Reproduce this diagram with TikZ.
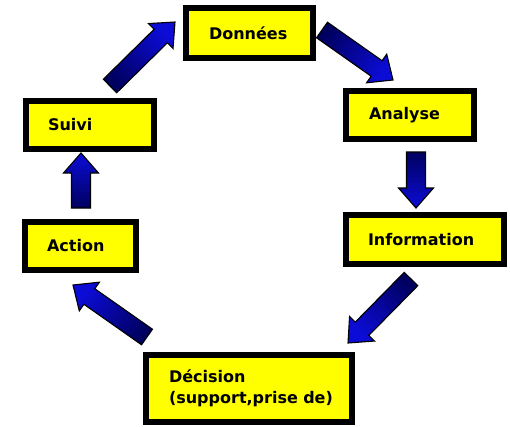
\documentclass[tikz,border=0pt]{standalone}
\usepackage{fontspec}
\setmainfont{DejaVu Sans}
\usetikzlibrary{calc}
\definecolor{boxyellow}{RGB}{255,255,0}
\definecolor{arrnavy}{RGB}{0,0,95}
\definecolor{arrblue}{RGB}{12,12,215}
\tikzset{
  stagebox/.style={draw=black, line width=6pt, fill=boxyellow,
    font=\fontsize{16}{21}\selectfont\bfseries, align=left,
    inner ysep=0pt, anchor=center},
  blockarr/.style={draw=black, line width=1.1pt, line join=miter,
    bottom color=arrnavy, top color=arrblue}
}
% #1 tail, #2 tip, #3 shading angle
\newcommand\blockarrow[3]{%
  \coordinate (ba-h) at ($(#2)!20pt!(#1)$);
  \draw[blockarr, shading angle=#3]
    ($(#1)!9.5pt!90:(#2)$) -- ($(ba-h)!9.5pt!-90:(#1)$) --
    ($(ba-h)!17.5pt!-90:(#1)$) -- (#2) --
    ($(ba-h)!17.5pt!90:(#1)$) -- ($(ba-h)!9.5pt!90:(#1)$) --
    ($(#1)!9.5pt!-90:(#2)$) -- cycle;
}
\begin{document}
\begin{tikzpicture}[x=1pt,y=-1pt]
\useasboundingbox (0,0) rectangle (510,426);
\fill[white] (0,0) rectangle (510,426);

\node[stagebox, text width=81pt, inner xsep=23pt, minimum height=50pt] (donnees) at (249.5,33) {Données};
\node[stagebox, text width=82pt, inner xsep=23pt, minimum height=48pt] (analyse) at (410,115) {Analyse};
\node[stagebox, text width=114pt, inner xsep=22pt, minimum height=49pt] (information) at (425,239.5) {Information};
\node[stagebox, text width=84pt, inner xsep=22pt, minimum height=48pt] (suivi) at (90,125) {Suivi};
\node[stagebox, text width=67pt, inner xsep=22pt, minimum height=48pt] (action) at (80.5,246) {Action};
\node[stagebox, text width=180pt, inner xsep=13pt, minimum height=67pt] (decision) at (249,388.5) {\hspace*{10pt}Décision\\\hspace*{10pt}(support,prise de)};

\coordinate (a1t) at (110,86);  \coordinate (a1h) at (175,22);
\coordinate (a2t) at (322,30);  \coordinate (a2h) at (393,80);
\coordinate (a3t) at (416,152); \coordinate (a3h) at (416,208);
\coordinate (a4t) at (411,279); \coordinate (a4h) at (348,343);
\coordinate (a5t) at (147,337); \coordinate (a5h) at (73,285);
\coordinate (a6t) at (81,208);  \coordinate (a6h) at (81,153);

\blockarrow{a1t}{a1h}{-45.4}
\blockarrow{a2t}{a2h}{-125.2}
\blockarrow{a3t}{a3h}{180}
\blockarrow{a4t}{a4h}{135.4}
\blockarrow{a5t}{a5h}{54.9}
\blockarrow{a6t}{a6h}{0}
\end{tikzpicture}
\end{document}
